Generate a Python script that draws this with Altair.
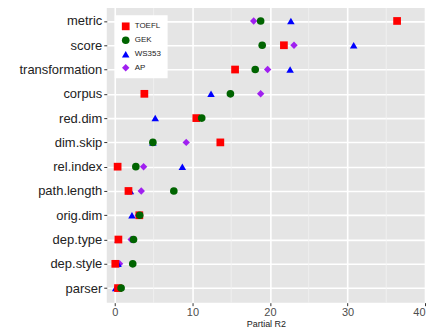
import altair as alt
import pandas as pd

features = ["metric", "score", "transformation", "corpus", "red.dim", "dim.skip",
            "rel.index", "path.length", "orig.dim", "dep.type", "dep.style", "parser"]
series = ["TOEFL", "GEK", "WS353", "AP"]
toefl = [36.4, 21.8, 15.5, 3.8, 10.5, 13.6, 0.35, 1.75, 3.15, 0.45, 0.05, 0.4]
gek = [18.8, 19.0, 18.1, 14.9, 11.2, 4.9, 2.7, 7.6, 3.2, 2.4, 2.3, 0.8]
ws353 = [22.7, 30.8, 22.6, 12.4, 5.2, 4.9, 8.7, 2.0, 2.2, 0.4, 0.4, 0.1]
ap = [17.9, 23.1, 19.7, 18.8, 10.8, 9.2, 3.7, 3.4, 3.0, 2.1, 0.6, 0.4]
major_ticks = [0, 10, 20, 30, 40]
minor_ticks = [5, 15, 25, 35]

draw_order = [("AP", ap), ("WS353", ws353), ("TOEFL", toefl), ("GEK", gek)]
rows = []
for name, vals in draw_order:
    for f, v in zip(features, vals):
        rows.append({"feature": f, "series": name, "value": v})
df = pd.DataFrame(rows)

xscale = alt.Scale(domain=[-1.05, 40], nice=False, zero=False)

minor = alt.Chart(pd.DataFrame({"v": minor_ticks})).mark_rule(
    color="#F2F2F2", strokeWidth=0.8
).encode(x=alt.X("v:Q", scale=xscale))

points = alt.Chart(df).mark_point(filled=True, opacity=1).encode(
    x=alt.X("value:Q", scale=xscale, title="Partial R2",
            axis=alt.Axis(values=major_ticks, grid=True, gridColor="white", gridWidth=1.6,
                          tickColor="#333333", tickSize=3, labelFontSize=11,
                          labelColor="#4D4D4D", labelPadding=1, labelFlush=True,
                          titleFontSize=9,
                          titleFontWeight="normal", titleColor="#222222", titlePadding=2,
                          domain=False, labelFont="Liberation Sans", titleFont="Liberation Sans")),
    y=alt.Y("feature:N", sort=features, title=None,
            scale=alt.Scale(type="point", padding=0.6),
            axis=alt.Axis(grid=True, gridColor="white", gridWidth=1.6, tickColor="#333333",
                          tickSize=3, labelFontSize=13, labelColor="#222222", labelPadding=2,
                          domain=False, minExtent=99, maxExtent=99, labelFont="Liberation Sans")),
    color=alt.Color("series:N", scale=alt.Scale(domain=series,
                    range=["#FF0000", "#006400", "#0000FF", "#A020F0"]),
                    legend=alt.Legend(title=None, orient="none", legendX=8, legendY=9,
                                      fillColor="white", padding=6, labelFontSize=8,
                                      labelFont="Liberation Sans", labelColor="#222222",
                                      symbolSize=45, rowPadding=5, labelOffset=4)),
    shape=alt.Shape("series:N", scale=alt.Scale(domain=series,
                    range=["square", "circle", "triangle-up", "diamond"])),
    size=alt.Size("series:N", scale=alt.Scale(domain=series, range=[60, 55, 75, 30]),
                  legend=None),
)

chart = alt.layer(minor, points).properties(
    width=319, height=297, padding={"top": -3, "left": 0, "right": 0, "bottom": 0}
).configure_view(fill="#E5E5E5", stroke=None)

chart.save("out.html", embed_options={"renderer": "svg", "actions": False})
